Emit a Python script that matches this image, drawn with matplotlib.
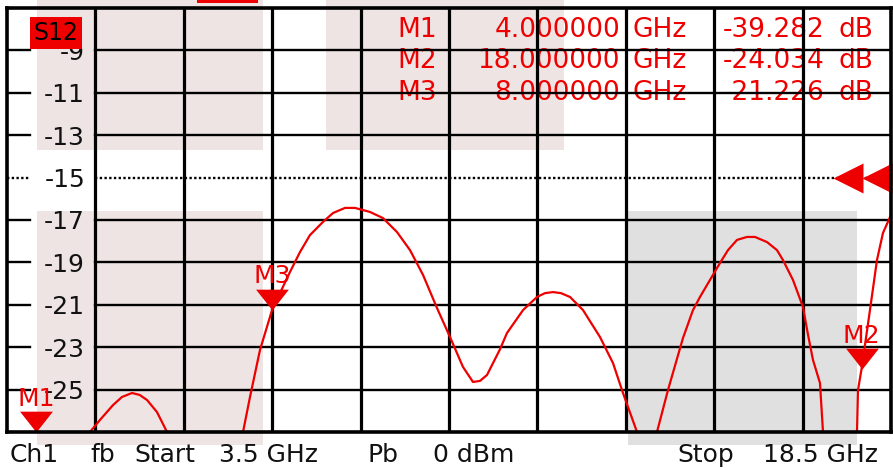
import matplotlib
matplotlib.use('Agg')
import matplotlib.pyplot as plt
from matplotlib.patches import Rectangle

# sweep / display settings of the analyser
f_start, f_stop = 3.5, 18.5      # GHz
db_top, db_bottom = -7, -27      # dB, 2 dB/div
ref_level = -15
y_ticks = [-9, -11, -13, -15, -17, -19, -21, -23, -25]

# S12 trace (GHz, dB); points below -27 dB are off screen
freq = [3.5, 3.75, 4.0, 4.25, 4.5, 4.908, 5.078, 5.299, 5.45, 5.621, 5.75, 5.876,
        6.045, 6.215, 6.5, 6.9, 7.25, 7.505, 7.623, 7.793, 8.0, 8.302, 8.472,
        8.641, 8.862, 9.032, 9.235, 9.405, 9.659, 9.88, 10.118, 10.338, 10.559,
        10.796, 11.017, 11.237, 11.407, 11.526, 11.645, 11.865, 11.984, 12.256,
        12.493, 12.629, 12.765, 12.9, 13.053, 13.274, 13.562, 13.783, 13.952,
        14.19, 14.36, 14.529, 14.716, 14.97, 15.14, 15.259, 15.428, 15.598,
        15.734, 15.887, 16.056, 16.192, 16.396, 16.565, 16.667, 16.837, 17.006,
        17.091, 17.176, 17.295, 17.346, 17.5, 17.7, 17.85, 17.923, 17.94, 18.0,
        18.143, 18.262, 18.364, 18.5]
s12 = [-33.0, -36.0, -39.282, -35.5, -31.0, -27.0, -26.43, -25.73, -25.35, -25.16,
       -25.25, -25.49, -26.06, -27.0, -31.0, -32.5, -30.0, -27.0, -25.35, -23.13,
       -21.226, -19.45, -18.51, -17.71, -17.09, -16.67, -16.43, -16.43, -16.62,
       -16.91, -17.57, -18.42, -19.59, -21.15, -22.52, -23.93, -24.64, -24.59,
       -24.31, -23.1, -22.33, -21.25, -20.63, -20.45, -20.4, -20.45, -20.63,
       -21.25, -22.52, -23.75, -25.16, -27.0, -29.0, -27.0, -25.02, -22.57,
       -21.25, -20.63, -19.83, -19.03, -18.42, -17.94, -17.8, -17.8, -18.04,
       -18.42, -18.89, -19.83, -21.1, -22.4, -23.6, -24.69, -27.0, -32.0,
       -33.0, -30.0, -27.0, -25.02, -24.034, -21.25, -18.89, -17.61, -16.76]

marker_names = ['M1', 'M2', 'M3']
marker_freq = [4.0, 18.0, 8.0]
marker_db = [-39.282, -24.034, -21.226]

# highlighted areas laid over the screenshot: (f0, f1, dB low, dB high, colour)
bands = [
    (4.01, 7.84, -13.70, -6.62, '#efe4e4'),
    (4.01, 7.84, -27.61, -16.58, '#efe4e4'),
    (8.91, 12.95, -13.70, -6.62, '#efe4e4'),
    (14.04, 17.92, -27.61, -16.58, '#e0e0e0'),
    (6.72, 7.76, -6.76, -6.62, '#ee0000'),
]

bottom_words = [('Ch1', 10), ('fb', 90), ('Start', 134), ('3.5 GHz', 219),
                ('Pb', 367), ('0 dBm', 433), ('Stop', 677), ('18.5 GHz', 763)]

RED = '#ee0000'
W, H = 893, 470
L, R, T, B = 7, 891, 8, 432   # graticule box in pixels

fig = plt.figure(figsize=(W / 100, H / 100), dpi=100)
ax = fig.add_axes([L / W, 1 - B / H, (R - L) / W, (B - T) / H])
ax.set_xlim(f_start, f_stop)
ax.set_ylim(db_bottom, db_top)
ax.set_xticks([])
ax.set_yticks([])
for sp in ax.spines.values():
    sp.set_linewidth(2.6)
    sp.set_color('black')
    sp.set_zorder(6)

for f0, f1, y0, y1, c in bands:
    ax.add_patch(Rectangle((f0, y0), f1 - f0, y1 - y0, facecolor=c,
                           edgecolor='none', zorder=0, clip_on=False))

# graticule
step = (f_stop - f_start) / 10
for k in range(1, 10):
    ax.axvline(f_start + k * step, color='black', lw=2.3, zorder=2)
stub_end = (30 - L) / (R - L)
line_start = (95 - L) / (R - L)
for yv in y_ticks:
    ls = (0, (1, 1)) if yv == ref_level else '-'
    ax.axhline(yv, 0, stub_end, color='black', lw=1.7, ls=ls, zorder=2)
    ax.axhline(yv, line_start, 1, color='black', lw=1.7, ls=ls, zorder=2)
    ax.text((85 - L) / (R - L), yv, str(yv), transform=ax.get_yaxis_transform(),
            ha='right', va='center_baseline', fontsize=18, color='#111111', zorder=3)

# trace
ax.plot(freq, s12, color=RED, lw=1.6, zorder=4, solid_joinstyle='round')

# markers (down triangles, tip on the trace or on the bottom edge)
tri = [(-1.0, 1.27), (1.0, 1.27), (0.0, 0.0)]
for name, f, v in zip(marker_names, marker_freq, marker_db):
    yv = max(v, db_bottom)
    ax.plot([f], [yv], marker=tri, markersize=30, color=RED, mec='none',
            zorder=5, clip_on=False)
    ax.annotate(name, (f, yv), xytext=(0, 19), textcoords='offset points',
                ha='center', va='baseline', fontsize=18, color=RED, zorder=5)

# reference level arrows at the right edge
ref_x = [0.9508, 0.9836]
ax.plot(ref_x, [ref_level] * 2, ls='none', marker='<', markersize=21,
        color=RED, mec='none', transform=ax.get_yaxis_transform(),
        zorder=5, clip_on=False)

# trace label
ax.text((56 - L) / (R - L), (B - 33) / (B - T), 'S12', transform=ax.transAxes,
        ha='center', va='center', fontsize=17, color='black', zorder=5,
        bbox=dict(boxstyle='square,pad=0.15', facecolor='#ee0000', edgecolor='none'))

# marker readout table (sits under the graticule lines)
row_base = [37, 68, 100]
for name, f, v, yb in zip(marker_names, marker_freq, marker_db, row_base):
    yy = 1 - yb / H
    kw = dict(transform=fig.transFigure, va='baseline', fontsize=19,
              color=RED, zorder=1)
    ax.text(437 / W, yy, name, ha='right', **kw)
    ax.text(620 / W, yy, f'{f:.6f}', ha='right', **kw)
    ax.text(632 / W, yy, 'GHz', ha='left', **kw)
    ax.text(825 / W, yy, f'{v:.3f}', ha='right', **kw)
    ax.text(838 / W, yy, 'dB', ha='left', **kw)

# status line under the graticule
for word, xp in bottom_words:
    fig.text(xp / W, 1 - 462 / H, word, ha='left', va='baseline',
             fontsize=18, color='#111111')

fig.savefig('out.png', dpi=100)
